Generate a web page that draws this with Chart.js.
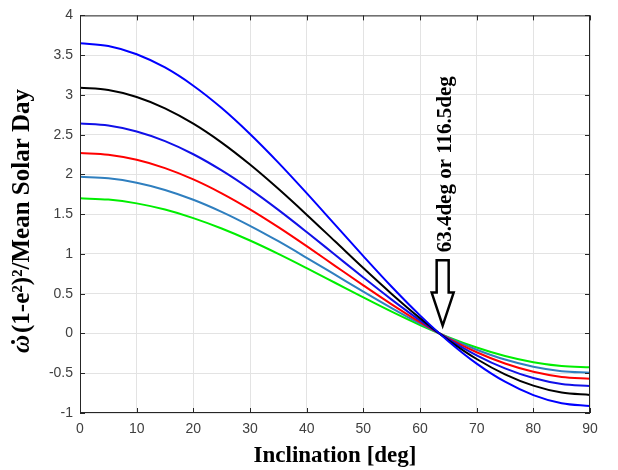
<!DOCTYPE html>
<html>
<head>
<meta charset="utf-8">
<script src="https://cdn.jsdelivr.net/npm/chart.js@4.4.1/dist/chart.umd.min.js"></script>
<style>
    html, body { margin: 0; padding: 0; background: #fff; }
    #wrap { width: 618px; height: 470px; }
</style>
</head>
<body>
<div id="wrap"><canvas id="argChart" width="618" height="470"></canvas></div>
<script>
// inclination [deg]
const inclination = [0, 5, 10, 15, 20, 25, 30, 35, 40, 45, 50, 55, 60, 65, 70, 75, 80, 85, 90];

// values, top curve to bottom curve (at i = 0)
const blueTop = [3.65, 3.615, 3.512, 3.345, 3.116, 2.835, 2.509, 2.149, 1.765, 1.369, 0.973, 0.588, 0.228, -0.097, -0.379, -0.607, -0.775, -0.878, -0.913];
const blackLine = [3.09, 3.061, 2.974, 2.831, 2.638, 2.4, 2.124, 1.819, 1.494, 1.159, 0.823, 0.498, 0.193, -0.083, -0.321, -0.514, -0.656, -0.743, -0.773];
const blueMid = [2.64, 2.615, 2.54, 2.419, 2.254, 2.05, 1.815, 1.554, 1.276, 0.99, 0.704, 0.426, 0.165, -0.07, -0.274, -0.439, -0.56, -0.635, -0.66];
const redLine = [2.27, 2.248, 2.184, 2.08, 1.938, 1.763, 1.561, 1.337, 1.098, 0.851, 0.605, 0.366, 0.142, -0.061, -0.236, -0.378, -0.482, -0.546, -0.568];
const tealLine = [1.97, 1.951, 1.896, 1.805, 1.682, 1.53, 1.354, 1.16, 0.952, 0.739, 0.525, 0.318, 0.123, -0.053, -0.204, -0.328, -0.418, -0.474, -0.493];
const greenLine = [1.7, 1.684, 1.636, 1.558, 1.451, 1.32, 1.169, 1.001, 0.822, 0.638, 0.453, 0.274, 0.106, -0.045, -0.176, -0.283, -0.361, -0.409, -0.425];

const xTicks = [0, 10, 20, 30, 40, 50, 60, 70, 80, 90];
const yTicks = [-1, -0.5, 0, 0.5, 1, 1.5, 2, 2.5, 3, 3.5, 4];

const arrowAt = { x: 64, yTop: 0.92, yTip: 0.1 };
const noteText = '63.4deg or 116.5deg';

const toPoints = (ys) => inclination.map((x, i) => ({ x: x, y: ys[i] }));

const makeSet = (ys, color) => ({
    data: toPoints(ys),
    borderColor: color,
    borderWidth: 2,
    pointRadius: 0,
    fill: false,
    cubicInterpolationMode: 'monotone',
});

// box, inside ticks, y title, arrow and note
const extras = {
    id: 'extras',
    afterDatasetsDraw(chart) {
        const ctx = chart.ctx;
        const a = chart.chartArea;
        const xs = chart.scales.x;
        const ys = chart.scales.y;
        ctx.save();

        ctx.strokeStyle = '#262626';
        ctx.lineWidth = 1;
        ctx.strokeRect(a.left + 0.5, a.top + 0.5, a.right - a.left - 1, a.bottom - a.top - 1);
        ctx.beginPath();
        xTicks.forEach((v) => {
            const px = Math.round(xs.getPixelForValue(v)) + 0.5;
            ctx.moveTo(px, a.bottom); ctx.lineTo(px, a.bottom - 5);
            ctx.moveTo(px, a.top); ctx.lineTo(px, a.top + 5);
        });
        yTicks.forEach((v) => {
            const py = Math.round(ys.getPixelForValue(v)) + 0.5;
            ctx.moveTo(a.left, py); ctx.lineTo(a.left + 5, py);
            ctx.moveTo(a.right, py); ctx.lineTo(a.right - 5, py);
        });
        ctx.stroke();

        // arrow
        const cx = xs.getPixelForValue(arrowAt.x);
        const top = ys.getPixelForValue(arrowAt.yTop);
        const tip = ys.getPixelForValue(arrowAt.yTip);
        const headY = tip - 33;
        ctx.beginPath();
        ctx.moveTo(cx - 6, top);
        ctx.lineTo(cx + 6, top);
        ctx.lineTo(cx + 6, headY);
        ctx.lineTo(cx + 11, headY);
        ctx.lineTo(cx, tip);
        ctx.lineTo(cx - 11, headY);
        ctx.lineTo(cx - 6, headY);
        ctx.closePath();
        ctx.fillStyle = '#fff';
        ctx.fill();
        ctx.strokeStyle = '#000';
        ctx.lineWidth = 2.5;
        ctx.stroke();

        // rotated note
        ctx.fillStyle = '#000';
        ctx.font = 'bold 21px "Liberation Serif"';
        ctx.textAlign = 'left';
        ctx.textBaseline = 'middle';
        ctx.translate(cx + 3, top - 8);
        ctx.rotate(-Math.PI / 2);
        ctx.fillText(noteText, 0, 0);
        ctx.restore();

        // y axis title, omega with a dot over it
        ctx.save();
        ctx.translate(23, 221);
        ctx.rotate(-Math.PI / 2);
        ctx.fillStyle = '#000';
        ctx.textBaseline = 'middle';
        ctx.textAlign = 'left';
        const partA = '\u03C9';
        const partB = '(1-e\u00B2)\u00B2/Mean Solar Day';
        ctx.font = 'italic bold 25px "Liberation Serif"';
        const wA = ctx.measureText(partA).width;
        ctx.font = 'bold 25px "Liberation Serif"';
        const wB = ctx.measureText(partB).width;
        const start = -(wA + wB + 2) / 2;
        ctx.font = 'italic bold 25px "Liberation Serif"';
        ctx.fillText(partA, start, 0);
        ctx.beginPath();
        ctx.arc(start + wA / 2 + 2, -10, 2, 0, Math.PI * 2);
        ctx.fill();
        ctx.font = 'bold 25px "Liberation Serif"';
        ctx.fillText(partB, start + wA + 2, 0);
        ctx.restore();
    },
};

const ctx = document.getElementById('argChart');
const argChart = new Chart(ctx, {
    type: 'line',
    data: {
        datasets: [
            makeSet(blueTop, '#0000ff'),
            makeSet(blackLine, '#000000'),
            makeSet(blueMid, '#1010e8'),
            makeSet(redLine, '#ff0000'),
            makeSet(tealLine, '#2f7fbf'),
            makeSet(greenLine, '#00ee00'),
        ],
    },
    options: {
        responsive: false,
        animation: false,
        layout: { padding: { top: 13, right: 28, left: 0, bottom: 0 } },
        plugins: { legend: { display: false }, tooltip: { enabled: false } },
        scales: {
            x: {
                type: 'linear',
                min: 0,
                max: 90,
                afterBuildTicks: (scale) => { scale.ticks = xTicks.map((v) => ({ value: v })); },
                afterFit: (scale) => { scale.height = 57; },
                grid: { color: '#e3e3e3', drawTicks: false },
                border: { display: false },
                ticks: { color: '#404040', font: { family: 'Liberation Sans', size: 14 }, padding: 8, maxRotation: 0, callback: (v) => String(v) },
                title: {
                    display: true,
                    text: 'Inclination [deg]',
                    color: '#000',
                    font: { family: 'Liberation Serif', size: 23, weight: 'bold' },
                    padding: { top: 5, bottom: 0 },
                },
            },
            y: {
                type: 'linear',
                min: -1,
                max: 4,
                afterBuildTicks: (scale) => { scale.ticks = yTicks.map((v) => ({ value: v })); },
                afterFit: (scale) => { scale.width = 80; },
                grid: { color: '#e3e3e3', drawTicks: false },
                border: { display: false },
                ticks: { color: '#404040', font: { family: 'Liberation Sans', size: 14 }, padding: 7, callback: (v) => String(v) },
            },
        },
    },
    plugins: [extras],
});
</script>
</body>
</html>
